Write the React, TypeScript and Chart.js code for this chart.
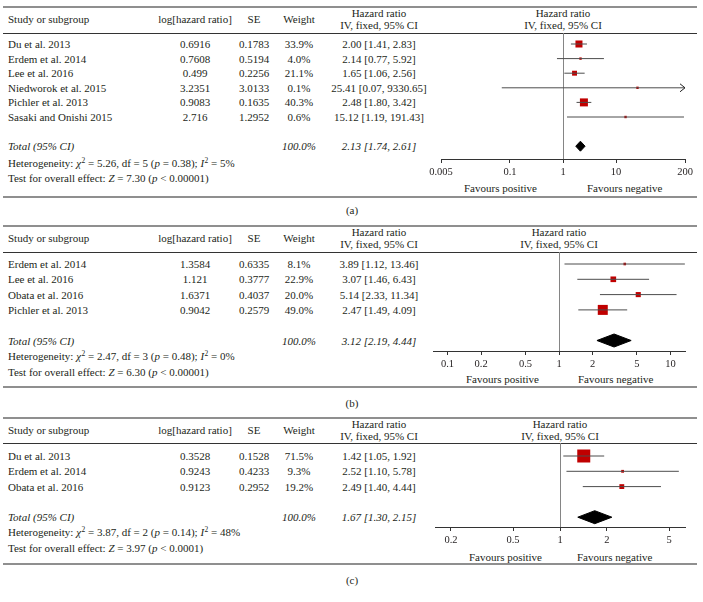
import React, { useEffect, useRef } from 'react';
import { Chart, registerables } from 'chart.js';

Chart.register(...registerables);

// ---------------- DATA: panel (a) ----------------
const A_STUDIES = ['Du et al. 2013', 'Erdem et al. 2014', 'Lee et al. 2016', 'Niedworok et al. 2015', 'Pichler et al. 2013', 'Sasaki and Onishi 2015'];
const A_LOGHR = [0.6916, 0.7608, 0.499, 3.2351, 0.9083, 2.716];
const A_SE = [0.1783, 0.5194, 0.2256, 3.0133, 0.1635, 1.2952];
const A_WEIGHT = [33.9, 4.0, 21.1, 0.1, 40.3, 0.6];
const A_HR = [2.0, 2.14, 1.65, 25.41, 2.48, 15.12];
const A_LO = [1.41, 0.77, 1.06, 0.07, 1.8, 1.19];
const A_HI = [2.83, 5.92, 2.56, 9330.65, 3.42, 191.43];
const A_TOTAL = [2.13, 1.74, 2.61];
const A_HET = ['5.26', '5', '0.38', '5%'];
const A_TEST = ['7.30', '< 0.00001'];
const A_TICKS = [0.005, 0.1, 1, 10, 200];
const A_TICK_LABELS = ['0.005', '0.1', '1', '10', '200'];
const A_RANGE = [0.005, 200];

// ---------------- DATA: panel (b) ----------------
const B_STUDIES = ['Erdem et al. 2014', 'Lee et al. 2016', 'Obata et al. 2016', 'Pichler et al. 2013'];
const B_LOGHR = [1.3584, 1.121, 1.6371, 0.9042];
const B_SE = [0.6335, 0.3777, 0.4037, 0.2579];
const B_WEIGHT = [8.1, 22.9, 20.0, 49.0];
const B_HR = [3.89, 3.07, 5.14, 2.47];
const B_LO = [1.12, 1.46, 2.33, 1.49];
const B_HI = [13.46, 6.43, 11.34, 4.09];
const B_TOTAL = [3.12, 2.19, 4.44];
const B_HET = ['2.47', '3', '0.48', '0%'];
const B_TEST = ['6.30', '< 0.00001'];
const B_TICKS = [0.1, 0.2, 0.5, 1, 2, 5, 10];
const B_TICK_LABELS = ['0.1', '0.2', '0.5', '1', '2', '5', '10'];
const B_RANGE = [1 / 13.5, 13.5];

// ---------------- DATA: panel (c) ----------------
const C_STUDIES = ['Du et al. 2013', 'Erdem et al. 2014', 'Obata et al. 2016'];
const C_LOGHR = [0.3528, 0.9243, 0.9123];
const C_SE = [0.1528, 0.4233, 0.2952];
const C_WEIGHT = [71.5, 9.3, 19.2];
const C_HR = [1.42, 2.52, 2.49];
const C_LO = [1.05, 1.1, 1.4];
const C_HI = [1.92, 5.78, 4.44];
const C_TOTAL = [1.67, 1.3, 2.15];
const C_HET = ['3.87', '2', '0.14', '48%'];
const C_TEST = ['3.97', '< 0.0001'];
const C_TICKS = [0.2, 0.5, 1, 2, 5];
const C_TICK_LABELS = ['0.2', '0.5', '1', '2', '5'];
const C_RANGE = [1 / 6.33, 6.33];

type PanelData = {
  studies: string[]; loghr: number[]; se: number[]; weight: number[];
  hr: number[]; lo: number[]; hi: number[]; total: number[];
  het: string[]; test: string[]; ticks: number[]; tickLabels: string[]; range: number[]; tag: string;
};

const PANELS: PanelData[] = [
  { studies: A_STUDIES, loghr: A_LOGHR, se: A_SE, weight: A_WEIGHT, hr: A_HR, lo: A_LO, hi: A_HI, total: A_TOTAL, het: A_HET, test: A_TEST, ticks: A_TICKS, tickLabels: A_TICK_LABELS, range: A_RANGE, tag: '(a)' },
  { studies: B_STUDIES, loghr: B_LOGHR, se: B_SE, weight: B_WEIGHT, hr: B_HR, lo: B_LO, hi: B_HI, total: B_TOTAL, het: B_HET, test: B_TEST, ticks: B_TICKS, tickLabels: B_TICK_LABELS, range: B_RANGE, tag: '(b)' },
  { studies: C_STUDIES, loghr: C_LOGHR, se: C_SE, weight: C_WEIGHT, hr: C_HR, lo: C_LO, hi: C_HI, total: C_TOTAL, het: C_HET, test: C_TEST, ticks: C_TICKS, tickLabels: C_TICK_LABELS, range: C_RANGE, tag: '(c)' },
];

// ---------------- LAYOUT (styles / positions) ----------------
type Layout = {
  top: number; head: number; hdr1: number; hdr2: number; studyHdr: number;
  row0: number; step: number; het: number; test: number; axis: number;
  bottom: number; label: number; favY: number; favGapL: number; favGapR: number;
  left: number; right: number; maxSide: number; diamondH: number;
};

const LAYOUTS: Layout[] = [
  { top: 7, head: 33, hdr1: 13, hdr2: 24.5, studyHdr: 18.5, row0: 44, step: 14.6, het: 162.5, test: 178, axis: 159, bottom: 197, label: 210, favY: 188, favGapL: 26, favGapR: 24, left: 441, right: 685, maxSide: 8, diamondH: 5 },
  { top: 226, head: 252, hdr1: 232, hdr2: 244, studyHdr: 238, row0: 264, step: 15.3, het: 356, test: 372, axis: 351, bottom: 387, label: 403, favY: 379, favGapL: 20, favGapR: 19, left: 433, right: 685, maxSide: 10, diamondH: 6.5 },
  { top: 418, head: 443, hdr1: 424, hdr2: 436, studyHdr: 430, row0: 456, step: 15.3, het: 532, test: 548, axis: 527, bottom: 564, label: 580, favY: 557, favGapL: 18, favGapR: 17, left: 435, right: 685, maxSide: 13, diamondH: 6.5 },
];

const COL_LOGHR = 195;
const COL_SE = 254;
const COL_WEIGHT = 299;
const COL_HR = 379;
const TEXT_COLOR = '#231f20';
const RED = '#c00000';
const FONT = "'Liberation Serif', 'Times New Roman', serif";

const fmtHR = (h: number, l: number, u: number) => `${h.toFixed(2)} [${l.toFixed(2)}, ${u.toFixed(2)}]`;

function Txt(props: { x: number; y: number; align?: string; italic?: boolean; size?: number; children: any }) {
  const { x, y, align = 'left', italic = false, size, children } = props;
  const tr = align === 'center' ? 'translateX(-50%)' : align === 'right' ? 'translateX(-100%)' : undefined;
  return (
    <div style={{ position: 'absolute', left: x, top: y - 7, lineHeight: '14px', whiteSpace: 'nowrap', transform: tr, fontStyle: italic ? 'italic' : 'normal', fontSize: size }}>
      {children}
    </div>
  );
}

const Sup = ({ children }: { children: any }) => (
  <span style={{ fontSize: 7.5, position: 'relative', top: -4, marginLeft: 0.5 }}>{children}</span>
);

function Rule({ y, color, h, x0 = 3, x1 = 697 }: { y: number; color: string; h: number; x0?: number; x1?: number }) {
  return <div style={{ position: 'absolute', left: x0, top: y - h / 2, width: x1 - x0, height: h, background: color }} />;
}

const PAD = 22;
const AXIS_H = 26;

function ForestChart({ d, L }: { d: PanelData; L: Layout }) {
  const ref = useRef<HTMLCanvasElement>(null);
  const cw = L.right - L.left + 2 * PAD;
  const ch = L.axis - L.head + AXIS_H;

  useEffect(() => {
    if (!ref.current) return;
    const n = d.studies.length;
    const totalRow = n + 1;
    const maxW = Math.max(...d.weight);
    const sides = d.weight.map((w) => Math.max(2.4, L.maxSide * Math.pow(w / maxW, 0.75)));

    const datasets: any[] = [];
    d.studies.forEach((_, i) => {
      datasets.push({
        data: [{ x: d.lo[i], y: i }, { x: d.hi[i], y: i }],
        showLine: true,
        borderColor: '#4d4d4d',
        borderWidth: 1,
        pointRadius: 0,
        fill: false,
      });
    });
    datasets.push({
      data: d.hr.map((h, i) => ({ x: h, y: i })),
      pointStyle: 'rect',
      pointRadius: sides.map((s) => s / Math.SQRT2),
      backgroundColor: RED,
      borderColor: RED,
      borderWidth: 0,
      showLine: false,
    });
    const dh = L.diamondH / L.step;
    datasets.push({
      data: [
        { x: d.total[1], y: totalRow },
        { x: d.total[0], y: totalRow - dh },
        { x: d.total[2], y: totalRow },
        { x: d.total[0], y: totalRow + dh },
        { x: d.total[1], y: totalRow },
      ],
      showLine: true,
      borderColor: '#000',
      backgroundColor: '#000',
      borderWidth: 1,
      pointRadius: 0,
      fill: 'shape',
      tension: 0,
    });

    const overlay = {
      id: 'forestOverlay',
      beforeDatasetsDraw(chart: any) {
        const { ctx, chartArea, scales } = chart;
        const px = Math.round(scales.x.getPixelForValue(1)) + 0.5;
        ctx.save();
        ctx.strokeStyle = '#858585';
        ctx.lineWidth = 1;
        ctx.beginPath();
        ctx.moveTo(px, chartArea.top);
        ctx.lineTo(px, chartArea.bottom);
        ctx.stroke();
        ctx.restore();
      },
      afterDatasetsDraw(chart: any) {
        const { ctx, chartArea, scales } = chart;
        ctx.save();
        ctx.strokeStyle = '#222';
        ctx.lineWidth = 1;
        d.hi.forEach((h, i) => {
          if (h > scales.x.max) {
            const py = scales.y.getPixelForValue(i);
            const ex = chartArea.right;
            ctx.beginPath();
            ctx.moveTo(ex - 5, py - 4);
            ctx.lineTo(ex, py);
            ctx.lineTo(ex - 5, py + 4);
            ctx.stroke();
          }
        });
        ctx.restore();
      },
    };

    const chart = new Chart(ref.current, {
      type: 'scatter',
      data: { datasets },
      plugins: [overlay],
      options: {
        animation: false,
        responsive: false,
        maintainAspectRatio: false,
        events: [],
        layout: { padding: { left: PAD, right: PAD, top: 0, bottom: 0 }, autoPadding: false },
        plugins: { legend: { display: false }, tooltip: { enabled: false } },
        scales: {
          x: {
            type: 'logarithmic',
            min: d.range[0],
            max: d.range[1],
            afterBuildTicks: (scale: any) => {
              scale.ticks = d.ticks.map((v) => ({ value: v }));
            },
            afterFit: (scale: any) => {
              scale.height = AXIS_H;
            },
            ticks: {
              callback: (_v: any, idx: number) => d.tickLabels[idx],
              autoSkip: false,
              maxRotation: 0,
              padding: 3,
              color: TEXT_COLOR,
              font: { family: FONT, size: 10.5 },
            },
            grid: { drawOnChartArea: false, drawTicks: true, tickLength: 4, color: '#333' },
            border: { display: true, color: '#333', width: 1 },
          },
          y: {
            type: 'linear',
            display: false,
            reverse: true,
            min: (L.head - L.row0) / L.step,
            max: (L.axis - L.row0) / L.step,
          },
        },
      } as any,
    });
    return () => chart.destroy();
  }, []);

  return (
    <canvas
      ref={ref}
      width={cw}
      height={ch}
      style={{ position: 'absolute', left: L.left - PAD, top: L.head, width: cw, height: ch }}
    />
  );
}

function Panel({ d, L }: { d: PanelData; L: Layout }) {
  const n = d.studies.length;
  const rowY = (i: number) => L.row0 + L.step * i;
  const nullX = (L.left + L.right) / 2;
  const totalY = rowY(n + 1);
  return (
    <>
      <Rule y={L.top} color="#8f8f8f" h={2} />
      <Rule y={L.head} color="#333" h={1} />
      <Rule y={L.bottom} color="#8f8f8f" h={2} />

      <Txt x={8} y={L.studyHdr}>Study or subgroup</Txt>
      <Txt x={COL_LOGHR} y={L.studyHdr} align="center">log[hazard ratio]</Txt>
      <Txt x={COL_SE} y={L.studyHdr} align="center">SE</Txt>
      <Txt x={COL_WEIGHT} y={L.studyHdr} align="center">Weight</Txt>
      <Txt x={COL_HR} y={L.hdr1} align="center">Hazard ratio</Txt>
      <Txt x={COL_HR} y={L.hdr2} align="center">IV, fixed, 95% CI</Txt>
      <Txt x={nullX} y={L.hdr1} align="center">Hazard ratio</Txt>
      <Txt x={nullX} y={L.hdr2} align="center">IV, fixed, 95% CI</Txt>

      {d.studies.map((s, i) => (
        <React.Fragment key={s}>
          <Txt x={8} y={rowY(i)}>{s}</Txt>
          <Txt x={COL_LOGHR} y={rowY(i)} align="center">{String(d.loghr[i])}</Txt>
          <Txt x={COL_SE} y={rowY(i)} align="center">{String(d.se[i])}</Txt>
          <Txt x={COL_WEIGHT} y={rowY(i)} align="center">{d.weight[i].toFixed(1) + '%'}</Txt>
          <Txt x={COL_HR} y={rowY(i)} align="center">{fmtHR(d.hr[i], d.lo[i], d.hi[i])}</Txt>
        </React.Fragment>
      ))}

      <Txt x={8} y={totalY} italic>Total (95% CI)</Txt>
      <Txt x={COL_WEIGHT} y={totalY} align="center" italic>100.0%</Txt>
      <Txt x={COL_HR} y={totalY} align="center" italic>{fmtHR(d.total[0], d.total[1], d.total[2])}</Txt>

      <Txt x={8} y={L.het}>
        Heterogeneity: <i>χ</i><Sup>2</Sup> = {d.het[0]}, df = {d.het[1]} (<i>p</i> = {d.het[2]}); <i>I</i><Sup>2</Sup> = {d.het[3]}
      </Txt>
      <Txt x={8} y={L.test}>
        Test for overall effect: <i>Z</i> = {d.test[0]} (<i>p</i> {d.test[1]})
      </Txt>

      <Txt x={nullX - L.favGapL} y={L.favY} align="right">Favours positive</Txt>
      <Txt x={nullX + L.favGapR} y={L.favY}>Favours negative</Txt>

      <Txt x={352} y={L.label} align="center">{d.tag}</Txt>

      <ForestChart d={d} L={L} />
    </>
  );
}

export default function App() {
  return (
    <div
      style={{
        position: 'absolute',
        left: 0,
        top: 0,
        width: 703,
        height: 602,
        overflow: 'hidden',
        background: '#fff',
        fontFamily: FONT,
        fontSize: 11,
        color: TEXT_COLOR,
      }}
    >
      {PANELS.map((d, i) => (
        <Panel key={d.tag} d={d} L={LAYOUTS[i]} />
      ))}
    </div>
  );
}
